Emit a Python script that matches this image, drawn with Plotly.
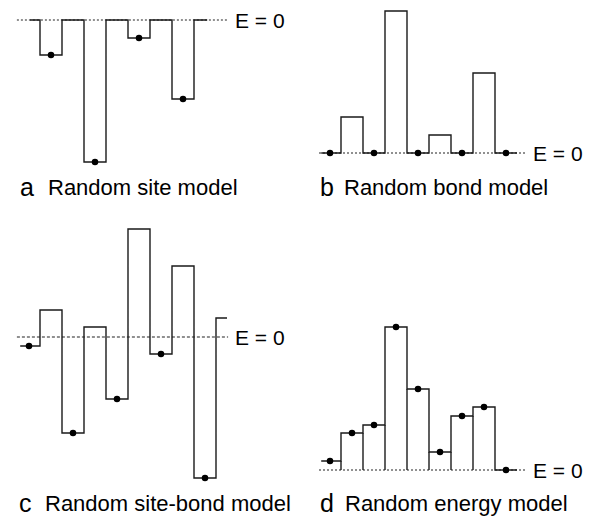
import plotly.graph_objects as go

# ---- energy landscapes (arbitrary energy units, E = 0 reference) ----
# (a) random site model: well depths, barriers sit at E = 0
site_a = [-35, -142, -18, -79]
# (b) random bond model: sites at E = 0, random barrier heights
barrier_b = [36, 142, 18, 80]
# (c) random site-bond model: alternating site / barrier levels
site_c = [-9, -96, -62, -17, -141]
barrier_c = [27, 10, 108, 71, 19]
# (d) random energy model: site energies above E = 0
site_d = [9, 37, 45, 143, 81, 18, 54, 63, 0]

panel_letters = ["a", "b", "c", "d"]
panel_titles = ["Random site model", "Random bond model",
                "Random site-bond model", "Random energy model"]
zero_label = "E = 0"


def interleave(sites, barriers):
    out = []
    for i, s in enumerate(sites):
        out.append(s)
        if i < len(barriers):
            out.append(barriers[i])
    return out


# level sequences: segment k spans [k-1, k]
levels_a = interleave([0] * (len(site_a) + 1), site_a)
levels_b = interleave([0] * (len(barrier_b) + 1), barrier_b)
levels_c = interleave(site_c, barrier_c)
levels_d = list(site_d)

sites_idx_a = list(range(1, len(levels_a), 2))
sites_idx_b = list(range(0, len(levels_b), 2))
sites_idx_c = list(range(0, len(levels_c), 2))
sites_idx_d = list(range(len(levels_d)))

# ---- page geometry ----
W, H = 598, 518
SX, SY = 22.0, 1.0          # pixels per segment, pixels per energy unit
LINE = "#1a1a1a"
FONT = "Liberation Sans, Arial, Helvetica, sans-serif"

panels = [
    # origin (u=0, E=0) in page pixels, plotting box, path start/end, dotted extent, dash
    dict(levels=levels_a, sites=sites_idx_a, origin=(40, 20), box=(0, 0, 299, 259),
         start=-0.45, end=7.6, dotted=(-1.05, 8.55), dash="2px,2px", extra=False),
    dict(levels=levels_b, sites=sites_idx_b, origin=(341, 153), box=(299, 0, 598, 259),
         start=-0.9, end=8.0, dotted=(-1.0, 8.45), dash="2px,2px", extra=False),
    dict(levels=levels_c, sites=sites_idx_c, origin=(40, 337), box=(0, 210, 299, 518),
         start=-0.9, end=8.5, dotted=(-1.05, 8.55), dash="3px,2px", extra=False),
    dict(levels=levels_d, sites=sites_idx_d, origin=(341, 470), box=(299, 259, 598, 518),
         start=-0.9, end=8.0, dotted=(-1.0, 8.45), dash="2px,2px", extra=True),
]

label_pos = [(18, 46, 187), (318, 342, 187), (17, 43, 503), (318, 343, 503)]


def step_path(levels, start, end):
    xs, ys = [start], [levels[0]]
    for k in range(len(levels) - 1):
        xs += [k, k]
        ys += [levels[k], levels[k + 1]]
    xs.append(end)
    ys.append(levels[-1])
    return xs, ys


fig = go.Figure()
layout = {}
annotations = []

for i, p in enumerate(panels):
    n = "" if i == 0 else str(i + 1)
    xa, ya = "x" + n, "y" + n
    lv = p["levels"]

    # dotted E = 0 reference line
    fig.add_trace(go.Scatter(x=list(p["dotted"]), y=[0, 0], mode="lines",
                             line=dict(color="#222", width=1.1, dash=p["dash"]),
                             xaxis=xa, yaxis=ya, hoverinfo="skip", cliponaxis=False))

    xs, ys = step_path(lv, p["start"], p["end"])
    if p["extra"]:
        # histogram walls down to the baseline
        for k in range(len(lv) - 1):
            low = min(lv[k], lv[k + 1])
            if low > 0:
                xs += [None, k, k]
                ys += [None, 0, low]
    fig.add_trace(go.Scatter(x=xs, y=ys, mode="lines",
                             line=dict(color=LINE, width=1.4),
                             xaxis=xa, yaxis=ya, hoverinfo="skip", cliponaxis=False))

    fig.add_trace(go.Scatter(x=[k - 0.5 for k in p["sites"]],
                             y=[lv[k] for k in p["sites"]], mode="markers",
                             marker=dict(color="black", size=6.5),
                             xaxis=xa, yaxis=ya, hoverinfo="skip", cliponaxis=False))

    ox, oy = p["origin"]
    bx0, by0, bx1, by1 = p["box"]
    axis_common = dict(visible=False, showgrid=False, zeroline=False, fixedrange=True)
    layout["xaxis" + n] = dict(axis_common, domain=[bx0 / W, bx1 / W],
                               range=[(bx0 - ox) / SX, (bx1 - ox) / SX], anchor=ya)
    layout["yaxis" + n] = dict(axis_common, domain=[1 - by1 / H, 1 - by0 / H],
                               range=[(oy - by1) / SY, (oy - by0) / SY], anchor=xa)

    annotations.append(dict(x=p["dotted"][1] + 0.2, y=0, xref=xa, yref=ya,
                            text=zero_label, showarrow=False, xanchor="left",
                            yanchor="middle", font=dict(family=FONT, size=21, color="black")))

    lx, tx, ly = label_pos[i]
    annotations.append(dict(x=lx / W, y=1 - ly / H, xref="paper", yref="paper",
                            text=panel_letters[i], showarrow=False, xanchor="left",
                            yanchor="middle", font=dict(family=FONT, size=25, color="black")))
    annotations.append(dict(x=tx / W, y=1 - ly / H, xref="paper", yref="paper",
                            text=panel_titles[i], showarrow=False, xanchor="left",
                            yanchor="middle", font=dict(family=FONT, size=22, color="black")))

fig.update_layout(width=W, height=H, autosize=False, showlegend=False,
                  margin=dict(l=0, r=0, t=0, b=0),
                  paper_bgcolor="white", plot_bgcolor="white",
                  annotations=annotations, **layout)

fig.write_html("out.html", config={"displayModeBar": False})
